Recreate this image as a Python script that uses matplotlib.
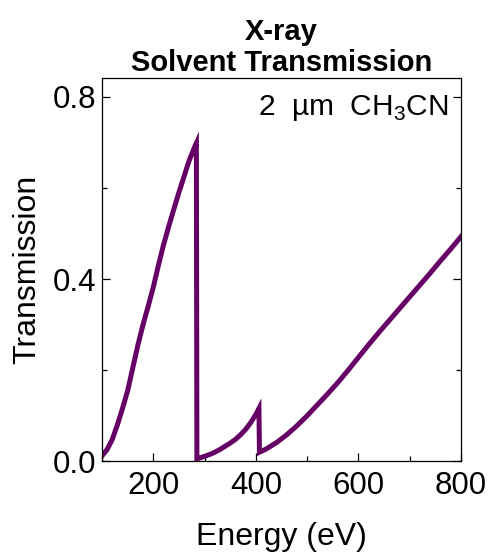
import numpy as np
from matplotlib import pyplot as plt

plt.rcParams['font.family'] = ['Liberation Sans', 'DejaVu Sans']
plt.rcParams['mathtext.fontset'] = 'custom'
plt.rcParams['mathtext.rm'] = 'Liberation Sans'

# transmission of 2 um acetonitrile
# below the C K-edge
e_low = [100, 110, 120, 130, 140, 150, 160, 170, 180, 190, 200, 210, 220, 230, 240, 250, 260, 270, 280, 284]
t_low = [0.012, 0.026, 0.048, 0.08, 0.116, 0.155, 0.205, 0.255, 0.30, 0.34, 0.382, 0.43, 0.475, 0.515, 0.553,
         0.59, 0.625, 0.66, 0.688, 0.698]
# between C and N K-edges
e_mid = [285, 290, 300, 310, 320, 330, 340, 350, 360, 370, 380, 390, 400, 406]
t_mid = [0.006, 0.007, 0.011, 0.015, 0.02, 0.026, 0.033, 0.04, 0.048, 0.058, 0.07, 0.085, 0.103, 0.116]
# above the N K-edge
e_high = [407, 420, 440, 460, 480, 500, 520, 540, 560, 580, 600, 620, 640, 660, 680, 700, 720, 740, 760, 780, 800]
t_high = [0.02, 0.027, 0.041, 0.058, 0.078, 0.10, 0.124, 0.148, 0.173, 0.20, 0.228, 0.256, 0.283, 0.309,
          0.335, 0.361, 0.387, 0.413, 0.44, 0.466, 0.493]

energy = e_low + e_mid + e_high
trans = t_low + t_mid + t_high

fig = plt.figure(figsize=(5.01, 5.54), dpi=100)
ax = fig.add_axes([0.2036, 0.1673, 0.7166, 0.6919])

ax.plot(energy, trans, color='#660066', lw=3.6, solid_joinstyle='miter')

ax.set_xlim(100, 800)
ax.set_ylim(0, 0.841)
ax.set_xticks([200, 400, 600, 800])
ax.set_xticks([100, 300, 500, 700], minor=True)
ax.set_yticks([0.0, 0.4, 0.8])
ax.set_yticks([0.2, 0.6], minor=True)
ax.set_yticklabels(['0.0', '0.4', '0.8'])
ax.tick_params(which='both', direction='in', right=True, labelsize=22.5, width=0.9)
ax.tick_params(axis='x', which='both', pad=7)
ax.tick_params(axis='y', which='both', pad=4)
ax.tick_params(which='major', length=6)
ax.tick_params(which='minor', length=3.5)
for s in ax.spines.values():
    s.set_linewidth(0.9)

ax.set_xlabel('Energy (eV)', fontsize=23, labelpad=15)
ax.set_ylabel('Transmission', fontsize=23, labelpad=8)
ax.set_title('X-ray\nSolvent Transmission', fontsize=21, fontweight='bold', pad=5, linespacing=1.15)
ax.text(0.964, 0.962, '2  µm  CH$_3$CN', transform=ax.transAxes, ha='right', va='top', fontsize=21.5)

fig.savefig('out.png', dpi=100)
